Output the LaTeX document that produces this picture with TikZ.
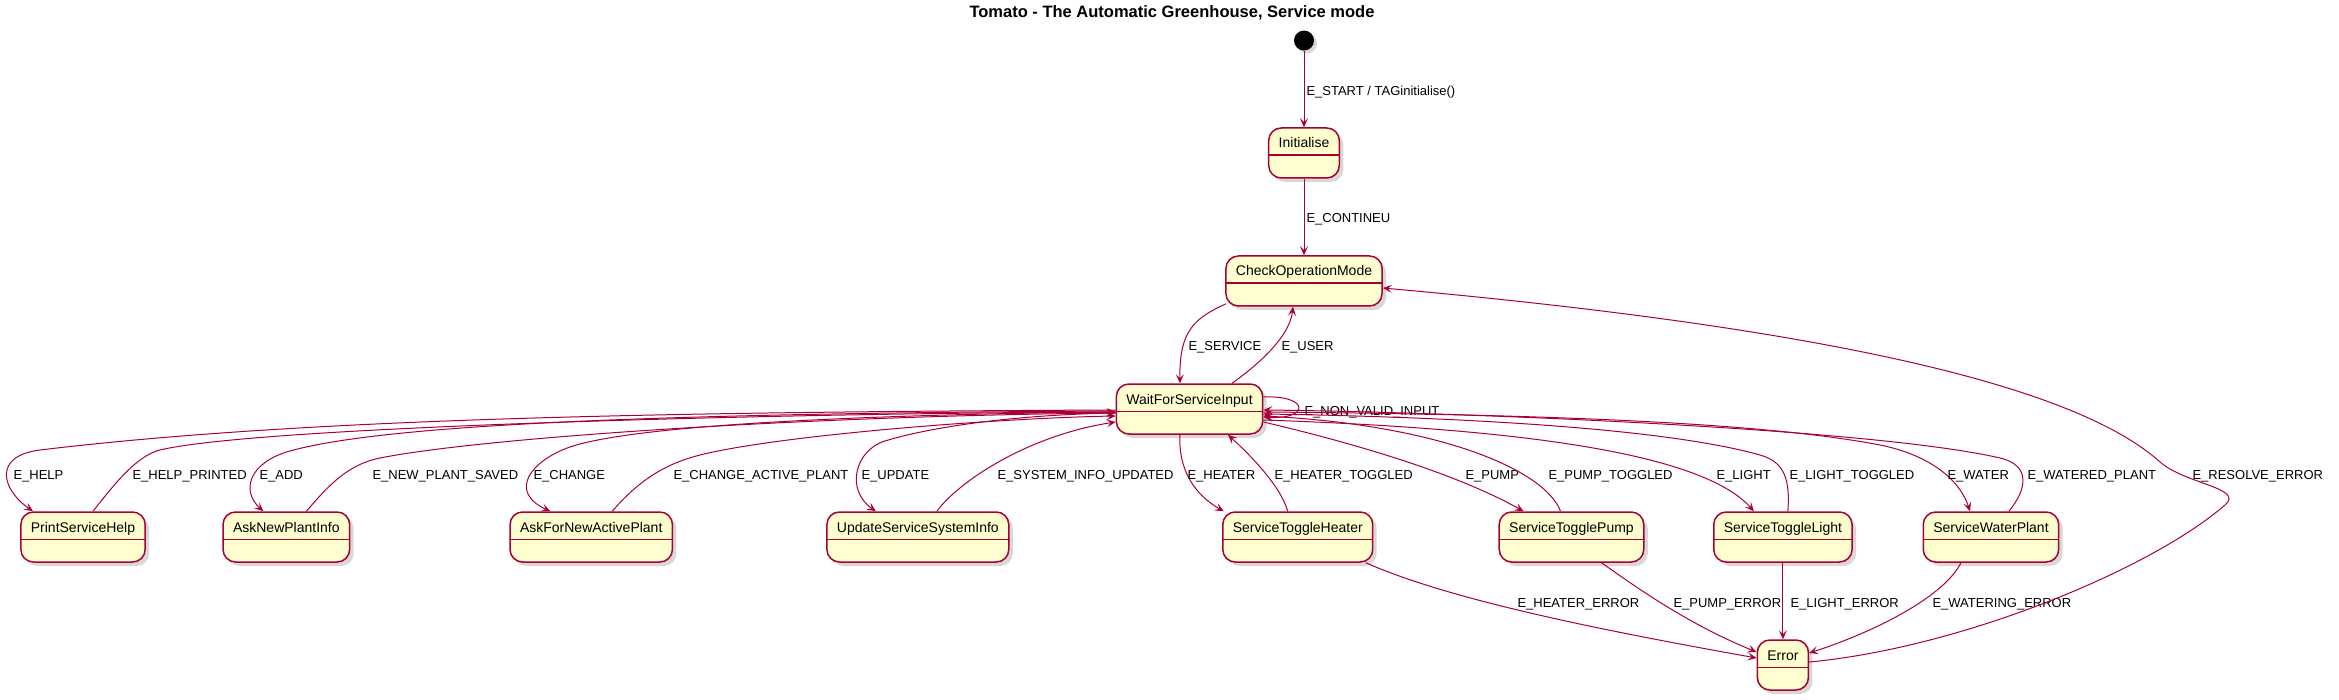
\documentclass[tikz,border=0pt]{standalone}
\usepackage{fontspec}
\setmainfont{Liberation Sans}
\usetikzlibrary{positioning,arrows.meta,shadows}
\definecolor{statebd}{HTML}{A80036}
\definecolor{statebg}{HTML}{FEFECE}

\begin{document}
\begin{tikzpicture}
	[
	  x=1pt, y=-1pt,
	  state/.style={draw=statebd, fill=statebg, line width=1.5pt, rounded corners=12.5pt,
	    inner xsep=10pt, inner ysep=0pt, text height=20pt, text depth=30pt,
	    font=\fontsize{14}{16}\selectfont,
	    drop shadow={shadow xshift=4pt, shadow yshift=-4pt, opacity=.3}},
	  startdot/.style={circle, fill=black, minimum size=20pt, inner sep=0pt,
	    drop shadow={shadow xshift=3pt, shadow yshift=-3pt, opacity=.3}},
	  tr/.style={draw=statebd, line width=1pt, -{Stealth[length=9pt, width=8pt, inset=4pt]}},
	  lbl/.style={anchor=base west, inner sep=0pt, font=\fontsize{13}{15}\selectfont},
	]
	\useasboundingbox [fill=white] (0,0) rectangle (2339,700);
	\node (title) [anchor=base, font=\bfseries\fontsize{16.5}{19}\selectfont] at (1172,18)
	  {Tomato - The Automatic Greenhouse, Service mode};

	\node (check) [state] at (1304,281) {CheckOperationMode};
	\node (init) [state, above=76.5pt of check] {Initialise};
	\node (start) [startdot, above=76.5pt of init] {};
	\node (wait) [state, below=76.5pt of check, xshift=-114.5pt] {WaitForServiceInput};
	\node (help) [state] at (83,537) {PrintServiceHelp};
	\node (addplant) [state, right=76.4pt of help] {AskNewPlantInfo};
	\node (askactive) [state, right=158.9pt of addplant] {AskForNewActivePlant};
	\node (update) [state, right=153pt of askactive] {UpdateServiceSystemInfo};
	\node (heater) [state, right=212.5pt of update] {ServiceToggleHeater};
	\node (pump) [state, right=125pt of heater] {ServiceTogglePump};
	\node (light) [state, right=68.5pt of pump] {ServiceToggleLight};
	\node (water) [state, right=69.7pt of light] {ServiceWaterPlant};
	\node (error) [state, below=76.5pt of light] {Error};
	\foreach \s in {init,check,wait,help,addplant,askactive,update,heater,pump,light,water,error}
	  \draw [statebd, line width=1.5pt] ([yshift=-28pt]\s.north west) -- ([yshift=-28pt]\s.north east);

	% start, mode selection
	\draw [tr] (start) -- (init) node [lbl] at (1306,96) {E\_START / TAGinitialise()};
	\draw [tr] (init) -- (check) node [lbl] at (1306,223) {E\_CONTINEU};
	\draw [tr] ([shift={(1pt,3pt)}]check.south west) .. controls (1195,318) and (1179,330) .. ([xshift=-9.5pt]wait.north)
	  node [lbl] at (1188,351) {E\_SERVICE};
	\draw [tr] ([xshift=42.5pt]wait.north) .. controls (1262,362) and (1290,335) .. ([xshift=-11pt]check.south)
	  node [lbl] at (1281,351) {E\_USER};
	\draw [tr] ([yshift=12pt]wait.east) .. controls (1310,395) and (1310,420) .. ([yshift=-8pt]wait.east)
	  node [lbl] at (1304,415) {E\_NON\_VALID\_INPUT};

	% left branch
	\draw [tr] ([yshift=-1pt]wait.west) .. controls (670,412) and (306,418) .. (40,450)
	  .. controls (-8,456) and (2,490) .. ([xshift=-50pt]help.north) node [lbl] at (13,479) {E\_HELP};
	\draw [tr] ([xshift=10pt]help.north) .. controls (110,490) and (135,456) .. (160,450)
	  .. controls (260,426) and (800,413) .. ([yshift=-3pt]wait.west) node [lbl] at (132,479) {E\_HELP\_PRINTED};
	\draw [tr] ([yshift=-2pt]wait.west) .. controls (750,413) and (400,420) .. (290,451)
	  .. controls (250,462) and (240,490) .. ([xshift=-23pt]addplant.north) node [lbl] at (259,479) {E\_ADD};
	\draw [tr] ([xshift=20pt]addplant.north) .. controls (325,490) and (345,465) .. (380,458)
	  .. controls (480,438) and (800,416) .. ([yshift=-4pt]wait.west) node [lbl] at (372,479) {E\_NEW\_PLANT\_SAVED};
	\draw [tr] ([yshift=-3pt]wait.west) .. controls (900,414) and (640,423) .. (570,447)
	  .. controls (530,461) and (508,492) .. ([xshift=-41pt]askactive.north) node [lbl] at (533,479) {E\_CHANGE};
	\draw [tr] ([xshift=21pt]askactive.north) .. controls (635,485) and (660,465) .. (700,455)
	  .. controls (780,435) and (1000,418) .. ([yshift=-7pt]wait.west) node [lbl] at (673,479) {E\_CHANGE\_ACTIVE\_PLANT};
	\draw [tr] ([yshift=-4pt]wait.west) .. controls (1000,415) and (920,430) .. (885,441)
	  .. controls (855,450) and (845,490) .. ([xshift=-42pt]update.north) node [lbl] at (861,479) {E\_UPDATE};
	\draw [tr] ([xshift=19pt]update.north) .. controls (960,480) and (1030,435) .. ([yshift=-13pt]wait.west)
	  node [lbl] at (997,479) {E\_SYSTEM\_INFO\_UPDATED};

	% right branch
	\draw [tr] ([xshift=-9.5pt]wait.south) .. controls (1178,470) and (1195,495) .. ([xshift=-74pt]heater.north)
	  node [lbl] at (1187,479) {E\_HEATER};
	\draw [tr] ([xshift=-10pt]heater.north) .. controls (1280,485) and (1250,455) .. ([xshift=38.5pt]wait.south)
	  node [lbl] at (1274,479) {E\_HEATER\_TOGGLED};
	\draw [tr] ([yshift=-13pt]wait.east) .. controls (1340,440) and (1450,470) .. ([xshift=-48pt]pump.north)
	  node [lbl] at (1465,479) {E\_PUMP};
	\draw [tr] ([xshift=-11pt]pump.north) .. controls (1545,470) and (1440,425) .. ([yshift=-7pt]wait.east)
	  node [lbl] at (1548,479) {E\_PUMP\_TOGGLED};
	\draw [tr] ([yshift=-11pt]wait.east) .. controls (1500,428) and (1700,450) .. ([xshift=-29pt]light.north)
	  node [lbl] at (1716,479) {E\_LIGHT};
	\draw [tr] ([xshift=5pt]light.north) .. controls (1790,480) and (1785,462) .. (1760,455)
	  .. controls (1650,424) and (1400,416) .. ([yshift=-5pt]wait.east) node [lbl] at (1789,479) {E\_LIGHT\_TOGGLED};
	\draw [tr] ([yshift=-3pt]wait.east) .. controls (1500,414) and (1750,420) .. (1880,445)
	  .. controls (1930,455) and (1960,480) .. ([xshift=-21pt]water.north) node [lbl] at (1947,479) {E\_WATER};
	\draw [tr] ([xshift=18pt]water.north) .. controls (2028,488) and (2030,465) .. (2000,458)
	  .. controls (1870,428) and (1450,412) .. ([yshift=-1pt]wait.east) node [lbl] at (2027,479) {E\_WATERED\_PLANT};

	% errors
	\draw [tr] ([xshift=68pt]heater.south) .. controls (1450,600) and (1600,630) .. ([yshift=7pt]error.west)
	  node [lbl] at (1517,607) {E\_HEATER\_ERROR};
	\draw [tr] ([xshift=30pt]pump.south) .. controls (1640,590) and (1690,625) .. ([yshift=13pt]error.west)
	  node [lbl] at (1673,607) {E\_PUMP\_ERROR};
	\draw [tr] (light) -- (error) node [lbl] at (1790,607) {E\_LIGHT\_ERROR};
	\draw [tr] ([xshift=-30pt]water.south) .. controls (1945,595) and (1880,630) .. ([yshift=12pt]error.east)
	  node [lbl] at (1932,607) {E\_WATERING\_ERROR};
	\draw [tr] ([yshift=3pt]error.east) .. controls (1960,648) and (2150,570) .. (2225,505)
	  .. controls (2245,488) and (2185,484) .. (2160,462)
	  .. controls (2080,390) and (1850,330) .. ([yshift=-7pt]check.east) node [lbl] at (2192,479) {E\_RESOLVE\_ERROR};
\end{tikzpicture}
\end{document}
